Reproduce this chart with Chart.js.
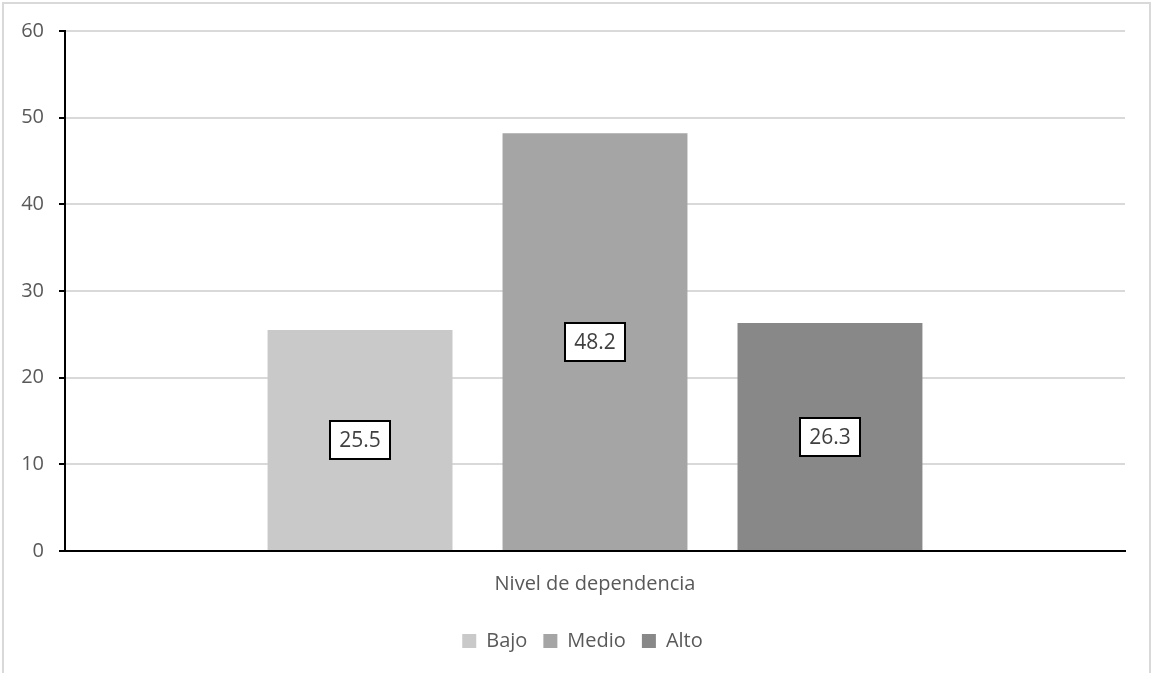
<!DOCTYPE html>
<html>
<head>
<meta charset="utf-8">
<script src="https://cdn.jsdelivr.net/npm/chart.js@4"></script>
<style>
  html, body { margin: 0; padding: 0; background: #fff; }
  #wrap { position: relative; width: 1155px; height: 673px; }
  #frame { position: absolute; left: 2px; top: 2px; width: 1149px; height: 680px; border: 2px solid #d9d9d9; box-sizing: border-box; pointer-events: none; }
</style>
</head>
<body>
<div id="wrap">
  <canvas id="barChart" width="1155" height="673"></canvas>
  <div id="frame"></div>
</div>
<script>
// ===== DATA =====
const categories = ['Nivel de dependencia'];
const seriesNames = ['Bajo', 'Medio', 'Alto'];
const seriesValues = [25.5, 48.2, 26.3];
const seriesColors = ['#c9c9c9', '#a5a5a5', '#888888'];
const yTicks = [0, 10, 20, 30, 40, 50, 60];

const FONT = '"Open Sans", "Noto Sans", sans-serif';
const TEXT = '#595959';

// boxed value labels, centred in each bar
const boxLabels = {
  id: 'boxLabels',
  afterDatasetsDraw(chart) {
    const ctx = chart.ctx;
    ctx.save();
    ctx.font = '21px ' + FONT;
    ctx.textAlign = 'center';
    ctx.textBaseline = 'middle';
    chart.data.datasets.forEach((ds, i) => {
      chart.getDatasetMeta(i).data.forEach((bar, j) => {
        const txt = String(ds.data[j]);
        const cx = bar.x;
        const cy = (bar.y + bar.base) / 2;
        const w = Math.round(ctx.measureText(txt).width + 18);
        const h = 38;
        const bx = Math.round(cx - w / 2), by = Math.round(cy - h / 2);
        ctx.fillStyle = '#fff';
        ctx.fillRect(bx, by, w, h);
        ctx.strokeStyle = '#000';
        ctx.lineWidth = 2;
        ctx.strokeRect(bx, by, w, h);
        ctx.fillStyle = '#404040';
        ctx.fillText(txt, cx, cy + 1);
      });
    });
    ctx.restore();
  }
};

// legend sits centred under the plot area, not the whole canvas
const legendShift = {
  id: 'legendShift',
  afterLayout(chart) {
    const lg = chart.legend;
    if (!lg) return;
    lg.left += 20;
    lg.right += 20;
  }
};

new Chart(document.getElementById('barChart'), {
  type: 'bar',
  data: {
    labels: categories,
    datasets: seriesNames.map((name, i) => ({
      label: name,
      data: [seriesValues[i]],
      backgroundColor: seriesColors[i],
      borderWidth: 0,
      categoryPercentage: 0.665,
      barPercentage: 0.787,
    }))
  },
  options: {
    responsive: false,
    animation: false,
    layout: { padding: { top: 31, right: 30, left: 0, bottom: 12 } },
    plugins: {
      legend: {
        position: 'bottom',
        labels: {
          color: TEXT,
          font: { family: FONT, size: 20 },
          boxWidth: 14, boxHeight: 14, padding: 16,
        }
      },
      tooltip: { enabled: false }
    },
    scales: {
      y: {
        min: 0, max: 60,
        afterFit: s => { s.width = 65; },
        afterBuildTicks: s => { s.ticks = yTicks.map(v => ({ value: v })); },
        ticks: { color: TEXT, font: { family: FONT, size: 20 }, padding: 15 },
        grid: { color: '#d9d9d9', lineWidth: 2, tickColor: '#000', tickLength: 6, tickWidth: 2 },
        border: { color: '#000', width: 2 },
      },
      x: {
        afterFit: s => { s.height += 6; },
        ticks: { color: TEXT, font: { family: FONT, size: 20 }, padding: 13 },
        grid: { display: false },
        border: { color: '#000', width: 2 },
      }
    }
  },
  plugins: [boxLabels, legendShift]
});
</script>
</body>
</html>
